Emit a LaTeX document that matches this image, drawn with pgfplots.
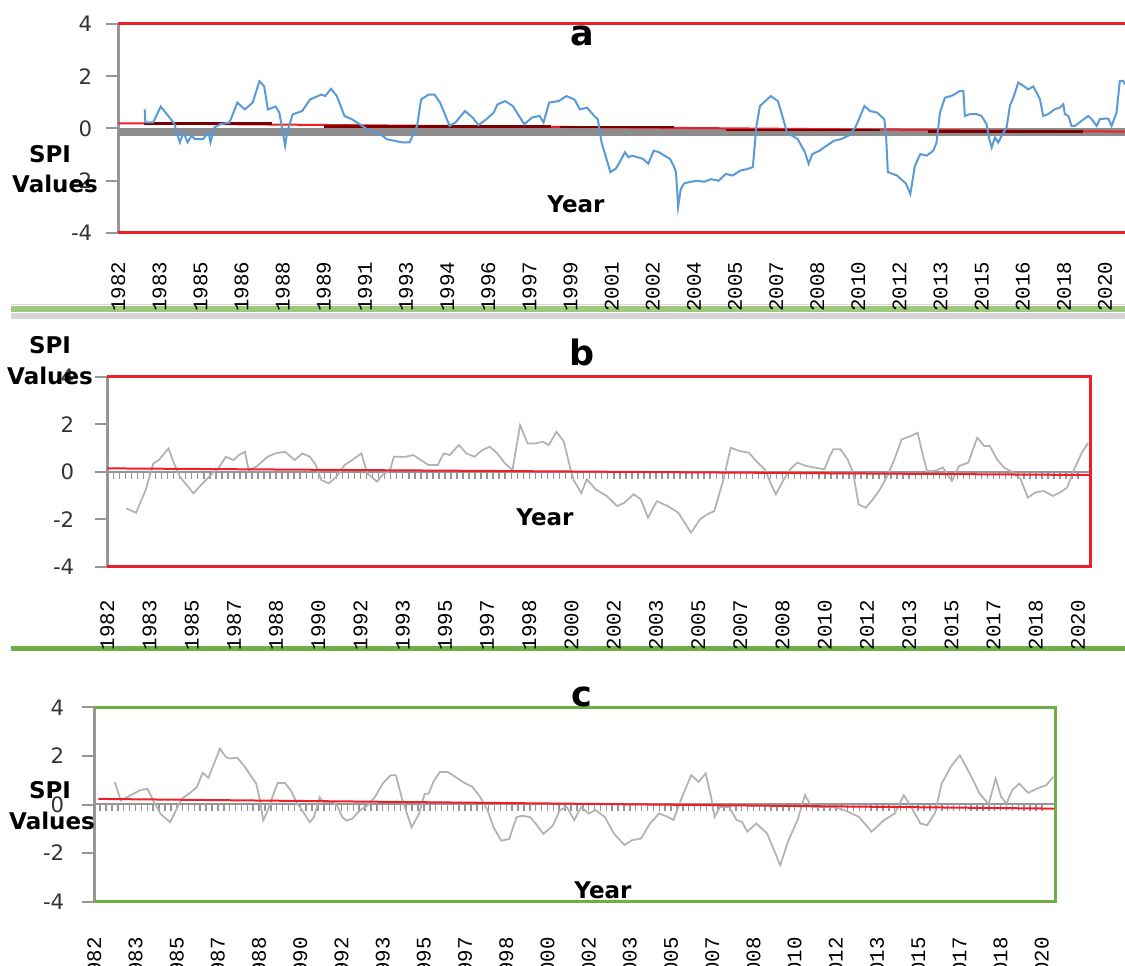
\documentclass[border=0pt]{standalone}
\usepackage{fontspec}
\setmainfont{DejaVu Sans}
\newfontfamily\yearfont{Liberation Mono}
\usepackage{pgfplots}
\pgfplotsset{compat=1.18}

\definecolor{exblue}{RGB}{91,155,213}
\definecolor{exgray}{RGB}{178,178,178}
\definecolor{axgray}{RGB}{150,150,150}
\definecolor{exred}{RGB}{240,30,40}
\definecolor{darkred}{RGB}{125,0,0}
\definecolor{exgreen}{RGB}{112,173,71}
\definecolor{sepgreen}{RGB}{160,200,125}

\pgfplotsset{
  spi/.style={
    scale only axis, anchor=south west, clip=false,
    ymin=-4, ymax=4, ytick={-4,-2,0,2,4}, yticklabels={-4,-2,0,2,4},
    axis x line*=bottom, axis y line*=left,
    x axis line style={draw=none},
    y axis line style={axgray, line width=1pt, -},
    tick align=outside, major tick length=4.8pt,
    xtick style={draw=none},
    ytick style={axgray, line width=0.8pt},
    yticklabel style={font=\fontsize{8.5}{9}\selectfont, text=black!80},
    xticklabel style={rotate=90, anchor=east, font=\yearfont\fontsize{8.3}{8}\selectfont, text=black},
  },
  comb/.style={
    scale only axis, anchor=south west, height=1pt,
    ymin=0, ymax=1, axis y line=none, axis x line*=bottom,
    x axis line style={axgray, line width=0.8pt, -},
    xtick={0,...,23}, xticklabel=\empty, minor x tick num=6,
    tick align=outside, major tick length=2.8pt, minor tick length=2.8pt,
    every tick/.style={axgray, line width=0.6pt},
  },
}

\begin{document}
\begin{tikzpicture}
\path[use as bounding box] (0,0) rectangle (450pt,386pt);

% ---------- separators (pixel frame, drawn first) ----------
\begin{scope}[x=0.4pt, y=-0.4pt, shift={(0,386pt)}]
\fill[black!15] (11,304) rectangle (1125,305.5);
\fill[sepgreen] (11,306) rectangle (1125,312.5);
\fill[black!16] (11,313) rectangle (1125,319);
\fill[exgreen] (11,646) rectangle (1125,651);
\end{scope}

% ---------- panel a ----------
\begin{axis}[spi,
    at={(47.32pt,292.8pt)}, width=402.68pt, height=83.6pt,
    xmin=0, xmax=465.2,
    xtick={0,19,...,456},
    xticklabels={1982,1983,1985,1986,1988,1989,1991,1993,1994,1996,1997,1999,2001,2002,2004,2005,2007,2008,2010,2012,2013,2015,2016,2018,2020},
    xticklabel shift=3.2pt,
    yticklabel style={xshift=-2.1pt},
]
\fill[black!45] (axis cs:0,0) rectangle (axis cs:465.2,-0.27);
\addplot[exred, line width=0.8pt] coordinates {(0,0.2) (465.2,-0.12)};
\addplot[darkred, line width=1pt] coordinates {(12,0.2) (71,0.2)};
\addplot[darkred, line width=1pt] coordinates {(95,0.08) (200,0.08)};
\addplot[darkred, line width=1pt] coordinates {(204,0.05) (257,0.05)};
\addplot[darkred, line width=1pt] coordinates {(281,-0.06) (352,-0.06)};
\addplot[darkred, line width=1pt] coordinates {(374,-0.12) (446,-0.12)};
\addplot[exblue, line width=0.8pt] coordinates {
(12.2,0.73)(12.5,0.23)(16.1,0.23)(19.6,0.84)(23.1,0.48)(25.8,0.2)(28.4,-0.53)(30.2,-0.15)(32.0,-0.53)(33.8,-0.28)(35.5,-0.41)(39.1,-0.41)(41.7,-0.15)(42.6,-0.53)(44.4,0.04)(47.0,0.16)(51.4,0.23)(55.0,0.99)(58.5,0.73)(62.1,0.99)(65.2,1.81)(67.4,1.62)(69.1,0.73)(72.7,0.84)(74.4,0.61)(77.1,-0.66)(78.0,-0.15)(80.6,0.54)(85.0,0.67)(88.6,1.11)(93.9,1.30)(95.6,1.24)(98.3,1.52)(101.0,1.24)(104.5,0.48)(108.0,0.35)(111.6,0.16)(115.1,-0.03)(118.6,-0.15)(122.2,-0.28)(124.0,-0.41)(127.5,-0.47)(131.0,-0.53)(134.6,-0.53)(138.1,0.10)(139.9,1.11)(143.4,1.30)(146.1,1.30)(148.7,0.99)(153.1,0.10)(155.8,0.23)(160.2,0.67)(163.7,0.42)(166.4,0.13)(170.0,0.35)(173.5,0.61)(175.2,0.92)(178.8,1.05)(182.3,0.86)(187.6,0.16)(191.2,0.42)(194.7,0.48)(196.5,0.23)(199.1,0.99)(203.5,1.05)(207.1,1.24)(210.8,1.11)(213.3,0.73)(216.6,0.80)(219.9,0.48)(221.6,0.35)(223.3,-0.53)(227.4,-1.67)(229.9,-1.54)(231.6,-1.30)(234.1,-0.91)(235.7,-1.10)(237.4,-1.04)(239.9,-1.10)(242.4,-1.16)(244.9,-1.35)(247.4,-0.85)(249.9,-0.91)(252.4,-1.04)(254.9,-1.16)(256.6,-1.42)(257.7,-1.67)(258.7,-3.0)(259.9,-2.32)(261.5,-2.1)(264.0,-2.05)(267.4,-2.0)(270.7,-2.04)(274.0,-1.94)(277.4,-2.0)(280.7,-1.74)(284.0,-1.80)(287.4,-1.61)(290.7,-1.55)(293.2,-1.48)(294.9,0.10)(296.5,0.86)(301.5,1.24)(304.8,1.05)(307.3,0.35)(309.0,-0.15)(314.0,-0.41)(317.3,-0.91)(319.0,-1.35)(320.7,-0.98)(324.0,-0.85)(327.3,-0.66)(330.7,-0.47)(334.0,-0.41)(337.3,-0.28)(340.6,0.04)(344.8,0.86)(347.3,0.67)(350.6,0.61)(354.0,0.35)(354.8,-0.28)(355.6,-1.67)(359.8,-1.80)(364.0,-2.11)(366.0,-2.51)(368.1,-1.43)(370.6,-0.98)(373.5,-1.04)(376.6,-0.85)(378.1,-0.54)(379.7,0.61)(382.0,1.18)(385.1,1.25)(389.0,1.44)(390.5,1.44)(391.2,0.48)(393.5,0.55)(396.6,0.55)(398.9,0.48)(401.2,0.17)(402.5,-0.41)(403.6,-0.73)(405.1,-0.34)(406.6,-0.54)(408.2,-0.28)(410.5,0.04)(412.0,0.87)(413.6,1.18)(415.9,1.76)(418.2,1.63)(420.5,1.50)(422.8,1.61)(424.3,1.38)(425.9,1.12)(427.4,0.48)(429.7,0.55)(432.8,0.74)(435.1,0.80)(436.7,0.93)(437.4,0.55)(439.0,0.48)(440.5,0.10)(442.1,0.10)(445.1,0.29)(448.2,0.48)(449.8,0.36)(452.1,0.10)(453.6,0.36)(455.9,0.38)(457.5,0.38)(459.0,0.10)(461.3,0.61)(462.8,1.82)(464.4,1.82)(465.2,1.69)
};
\draw[exred, line width=1.2pt] (rel axis cs:0,1) -- (rel axis cs:1,1);
\draw[exred, line width=1.2pt] (rel axis cs:0,0) -- (rel axis cs:1,0);
\end{axis}

% ---------- panel b ----------
\begin{axis}[comb, at={(42.92pt,197.32pt)}, width=393.36pt, xmin=0, xmax=23.30]
\end{axis}
\begin{axis}[spi,
    at={(42.92pt,159.32pt)}, width=393.36pt, height=76pt,
    xmin=0, xmax=23.30, xtick={0,...,23},
    xticklabels={1982,1983,1985,1987,1988,1990,1992,1993,1995,1997,1998,2000,2002,2003,2005,2007,2008,2010,2012,2013,2015,2017,2018,2020},
    xticklabel shift=5.2pt,
    yticklabel style={xshift=-4.9pt},
]
\addplot[exgray, line width=0.7pt] coordinates {
(0.45,-1.54)(0.68,-1.73)(0.91,-0.77)(1.09,0.35)(1.22,0.49)(1.45,0.98)(1.58,0.35)(1.72,-0.21)(2.04,-0.91)(2.26,-0.49)(2.49,-0.07)(2.63,0.14)(2.81,0.63)(2.99,0.49)(3.12,0.70)(3.26,0.84)(3.35,0.07)(3.53,0.21)(3.80,0.63)(3.98,0.77)(4.21,0.84)(4.44,0.49)(4.62,0.77)(4.80,0.63)(4.94,0.28)(5.07,-0.35)(5.25,-0.49)(5.43,-0.21)(5.62,0.28)(5.80,0.49)(6.02,0.77)(6.16,-0.07)(6.39,-0.42)(6.52,-0.14)(6.70,0.07)(6.79,0.63)(7.07,0.63)(7.25,0.70)(7.43,0.49)(7.61,0.28)(7.83,0.28)(7.97,0.77)(8.11,0.70)(8.33,1.12)(8.51,0.77)(8.70,0.63)(8.88,0.91)(9.06,1.05)(9.24,0.77)(9.42,0.35)(9.60,0.07)(9.78,1.96)(9.96,1.19)(10.14,1.19)(10.32,1.26)(10.46,1.12)(10.64,1.68)(10.82,1.26)(10.96,0.21)(11.05,-0.35)(11.23,-0.90)(11.36,-0.32)(11.57,-0.74)(11.83,-1.02)(12.08,-1.45)(12.25,-1.31)(12.47,-0.95)(12.64,-1.16)(12.81,-1.94)(13.02,-1.24)(13.28,-1.45)(13.53,-1.73)(13.83,-2.57)(14.04,-2.01)(14.21,-1.80)(14.38,-1.66)(14.60,-0.32)(14.77,1.01)(14.98,0.87)(15.20,0.80)(15.41,0.38)(15.58,0.10)(15.71,-0.46)(15.84,-0.95)(16.01,-0.39)(16.18,0.10)(16.35,0.38)(16.56,0.24)(16.77,0.17)(16.99,0.10)(17.12,0.66)(17.20,0.94)(17.37,0.94)(17.54,0.52)(17.67,-0.04)(17.80,-1.38)(17.97,-1.52)(18.14,-1.16)(18.31,-0.74)(18.48,-0.18)(18.65,0.52)(18.82,1.36)(19.03,1.50)(19.20,1.64)(19.29,0.94)(19.42,0.03)(19.59,0.03)(19.80,0.17)(20.01,-0.39)(20.18,0.24)(20.40,0.38)(20.61,1.43)(20.78,1.08)(20.91,1.08)(21.08,0.52)(21.25,0.17)(21.47,-0.04)(21.64,-0.32)(21.81,-1.09)(21.98,-0.88)(22.19,-0.81)(22.40,-1.02)(22.57,-0.88)(22.74,-0.67)(22.91,0.10)(23.09,0.80)(23.24,1.22)
};
\addplot[exred, line width=0.8pt] coordinates {(0,0.14) (23.30,-0.14)};
\draw[exred, line width=1.2pt] (rel axis cs:0,1) -- (rel axis cs:1,1) -- (rel axis cs:1,0) -- (rel axis cs:0,0);
\end{axis}

% ---------- panel c ----------
\begin{axis}[comb, at={(37.72pt,64.4pt)}, width=384.28pt, xmin=0, xmax=23.32]
\end{axis}
\begin{axis}[spi,
    at={(37.72pt,25.32pt)}, width=384.28pt, height=77.76pt,
    xmin=0, xmax=23.32, xtick={0,...,23},
    xticklabels={1982,1983,1985,1987,1988,1990,1992,1993,1995,1997,1998,2000,2002,2003,2005,2007,2008,2010,2012,2013,2015,2017,2018,2020},
    xticklabel shift=6pt,
    yticklabel style={xshift=-3.7pt},
]
\addplot[exgray, line width=0.7pt] coordinates {
(0.50,0.92)(0.64,0.17)(0.87,0.37)(1.10,0.58)(1.29,0.65)(1.43,0.17)(1.61,-0.39)(1.84,-0.73)(1.98,-0.25)(2.12,0.23)(2.35,0.51)(2.49,0.72)(2.63,1.30)(2.77,1.10)(3.05,2.30)(3.19,1.96)(3.28,1.89)(3.47,1.93)(3.66,1.54)(3.79,1.20)(3.93,0.86)(4.03,0.10)(4.10,-0.66)(4.21,-0.25)(4.35,0.44)(4.45,0.88)(4.63,0.88)(4.77,0.58)(4.91,0.10)(5.10,-0.39)(5.23,-0.73)(5.33,-0.52)(5.47,0.30)(5.56,0.10)(5.79,0.10)(5.89,-0.04)(6.02,-0.52)(6.12,-0.66)(6.26,-0.59)(6.44,-0.25)(6.63,-0.04)(6.81,0.30)(7.00,0.86)(7.19,1.20)(7.32,1.20)(7.46,0.30)(7.70,-0.94)(7.88,-0.39)(8.02,0.44)(8.11,0.44)(8.25,0.99)(8.39,1.34)(8.58,1.34)(8.77,1.13)(8.95,0.92)(9.18,0.72)(9.37,0.30)(9.55,-0.25)(9.69,-0.94)(9.88,-1.49)(10.07,-1.42)(10.25,-0.52)(10.39,-0.46)(10.58,-0.52)(10.72,-0.80)(10.90,-1.21)(11.13,-0.87)(11.30,-0.23)(11.47,-0.10)(11.65,-0.64)(11.82,-0.10)(12.00,-0.37)(12.17,-0.23)(12.39,-0.51)(12.61,-1.19)(12.87,-1.67)(13.05,-1.47)(13.27,-1.40)(13.49,-0.78)(13.71,-0.37)(13.92,-0.51)(14.06,-0.64)(14.27,0.32)(14.49,1.21)(14.67,0.93)(14.84,1.28)(14.97,0.32)(15.06,-0.51)(15.19,-0.10)(15.41,-0.10)(15.59,-0.64)(15.72,-0.71)(15.85,-1.12)(16.07,-0.78)(16.33,-1.19)(16.50,-1.88)(16.65,-2.50)(16.85,-1.47)(17.07,-0.64)(17.25,0.38)(17.42,-0.10)(17.68,-0.10)(17.95,-0.10)(18.21,-0.23)(18.56,-0.51)(18.87,-1.12)(19.17,-0.64)(19.43,-0.37)(19.65,0.38)(19.83,-0.10)(20.05,-0.78)(20.22,-0.85)(20.40,-0.37)(20.57,0.86)(20.79,1.55)(21.01,2.03)(21.27,1.21)(21.49,0.45)(21.71,0.01)(21.88,1.07)(22.01,0.32)(22.14,0.04)(22.28,0.59)(22.45,0.86)(22.67,0.48)(22.89,0.66)(23.11,0.80)(23.28,1.14)
};
\addplot[exred, line width=0.8pt] coordinates {(0.1,0.23) (23.32,-0.17)};
\draw[exgreen, line width=1.2pt] (rel axis cs:0,1) -- (rel axis cs:1,1) -- (rel axis cs:1,0) -- (rel axis cs:0,0);
\end{axis}

% ---------- labels (pixel frame) ----------
\begin{scope}[x=0.4pt, y=-0.4pt, shift={(0,386pt)}]
\begin{scope}[font=\bfseries\fontsize{9.2}{10}\selectfont]
\node at (50,154) {SPI};
\node at (55,184) {Values};
\node at (576,204) {Year};
\node at (50,345) {SPI};
\node at (50,376) {Values};
\node at (545,517) {Year};
\node at (50,790) {SPI};
\node at (52,821) {Values};
\node at (603,890) {Year};
\end{scope}
\begin{scope}[font=\bfseries\fontsize{14}{15}\selectfont]
\node at (582,36) {a};
\node at (582,352) {b};
\node at (582,697) {c};
\end{scope}
\end{scope}
\end{tikzpicture}
\end{document}
